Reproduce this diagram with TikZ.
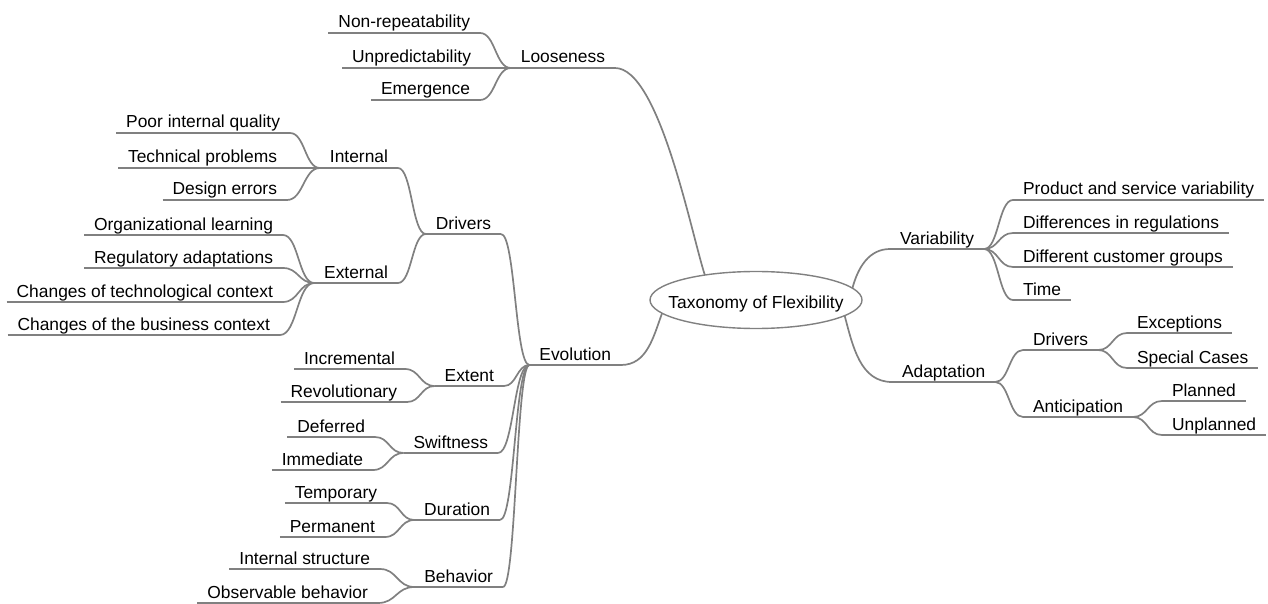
\documentclass[tikz,border=0pt]{standalone}
\usepackage{fontspec}
\setmainfont{Liberation Sans}
\usetikzlibrary{calc,shapes.geometric}
\definecolor{linegray}{RGB}{128,128,128}

\begin{document}
\begin{tikzpicture}[x=1pt, y=-1pt,
  every node/.style={font=\fontsize{17.4pt}{20pt}\selectfont, outer sep=0pt},
  topic/.style={inner xsep=10pt, inner ysep=1pt, text height=12.5pt, text depth=4pt},
  lefttopic/.style={topic, anchor=south east},
  righttopic/.style={topic, anchor=south west},
  central/.style={ellipse, draw=linegray, line width=1.4pt, minimum width=212pt,
    minimum height=57pt, inner xsep=-25pt, inner ysep=0pt, text height=17pt, text depth=1pt},
  uline/.style={draw=linegray, line width=1.7pt},
  trunk/.style={uline},
  branch/.style={uline, to path={let \p1=(\tikztostart), \p2=(\tikztotarget) in
    .. controls ({(\x1+\x2)/2},\y1) and ({(\x1+\x2)/2},\y2) .. (\tikztotarget)}}]
				\useasboundingbox (0,0) rectangle (1268,604);

				% Manual node positions
				\node[central] (root) at (756,300) {Taxonomy of Flexibility};

				\node[lefttopic] (loose) at (615,68) {Looseness};
				\node[lefttopic] (nonrep) at (480,33) {Non-repeatability};
				\node[lefttopic] (unpred) at (481,68) {Unpredictability};
				\node[lefttopic] (emerg) at (480,100) {Emergence};

				\node[lefttopic] (evo) at (621,365) {Evolution};
				\node[lefttopic] (drv) at (501,234) {Drivers};
				\node[lefttopic] (intl) at (398,168) {Internal};
				\node[lefttopic] (extl) at (398,283) {External};
				\node[lefttopic] (poor) at (290,133) {Poor internal quality};
				\node[lefttopic] (tech) at (287,168) {Technical problems};
				\node[lefttopic] (design) at (287,200) {Design errors};
				\node[lefttopic] (orgl) at (283,235) {Organizational learning};
				\node[lefttopic] (regul) at (283,268) {Regulatory adaptations};
				\node[lefttopic] (techctx) at (283,302) {Changes of technological context};
				\node[lefttopic] (busctx) at (280,335) {Changes of the business context};
				\node[lefttopic] (extent) at (504,386) {Extent};
				\node[lefttopic] (incr) at (405,369) {Incremental};
				\node[lefttopic] (revo) at (407,402) {Revolutionary};
				\node[lefttopic] (swift) at (498,453) {Swiftness};
				\node[lefttopic] (defer) at (375,437) {Deferred};
				\node[lefttopic] (immed) at (373,470) {Immediate};
				\node[lefttopic] (durat) at (500,520) {Duration};
				\node[lefttopic] (temp) at (387,503) {Temporary};
				\node[lefttopic] (perm) at (385,537) {Permanent};
				\node[lefttopic] (behav) at (503,587) {Behavior};
				\node[lefttopic] (istruct) at (380,569) {Internal structure};
				\node[lefttopic] (obsbeh) at (378,603) {Observable behavior};

				\node[righttopic] (var) at (890,249) {Variability};
				\node[righttopic] (prod) at (1013,200) {Product and service variability};
				\node[righttopic] (diffreg) at (1013,233) {Differences in regulations};
				\node[righttopic] (diffcust) at (1013,267) {Different customer groups};
				\node[righttopic] (time) at (1013,300) {Time};
				\node[righttopic] (adapt) at (892,382) {Adaptation};
				\node[righttopic] (adrv) at (1023,350) {Drivers};
				\node[righttopic] (antic) at (1023,417) {Anticipation};
				\node[righttopic] (exc) at (1127,333) {Exceptions};
				\node[righttopic] (spec) at (1127,368) {Special Cases};
				\node[righttopic] (plan) at (1162,401) {Planned};
				\node[righttopic] (unplan) at (1162,435) {Unplanned};

				% Underlines
				\foreach \n in {loose,nonrep,unpred,emerg,evo,drv,intl,extl,poor,tech,design,
				  orgl,regul,techctx,busctx,extent,incr,revo,swift,defer,immed,durat,temp,perm,
				  behav,istruct,obsbeh,var,prod,diffreg,diffcust,time,adapt,adrv,antic,exc,spec,
				  plan,unplan}
				  \draw[uline] (\n.south west) -- (\n.south east);

				% Connections
				\draw[trunk] (loose.south east) to[out=0, in=108, looseness=0.5] (root.154);
				\draw[trunk] (root.188) to[out=-110, in=0] (evo.south east);
				\draw[trunk] (root.7) to[out=75, in=180] (var.south west);
				\draw[trunk] (root.350) to[out=-75, in=180] (adapt.south west);

				\draw[branch] (nonrep.south east) to (loose.south west);
				\draw[branch] (unpred.south east) to (loose.south west);
				\draw[branch] (emerg.south east) to (loose.south west);

				\draw[branch] (drv.south east) to (evo.south west);
				\draw[branch] (extent.south east) to (evo.south west);
				\draw[branch] (swift.south east) to (evo.south west);
				\draw[branch] (durat.south east) to (evo.south west);
				\draw[branch] (behav.south east) to (evo.south west);
				\draw[branch] (intl.south east) to (drv.south west);
				\draw[branch] (extl.south east) to (drv.south west);
				\draw[branch] (poor.south east) to (intl.south west);
				\draw[branch] (tech.south east) to (intl.south west);
				\draw[branch] (design.south east) to (intl.south west);
				\draw[branch] (orgl.south east) to (extl.south west);
				\draw[branch] (regul.south east) to (extl.south west);
				\draw[branch] (techctx.south east) to (extl.south west);
				\draw[branch] (busctx.south east) to (extl.south west);
				\draw[branch] (incr.south east) to (extent.south west);
				\draw[branch] (revo.south east) to (extent.south west);
				\draw[branch] (defer.south east) to (swift.south west);
				\draw[branch] (immed.south east) to (swift.south west);
				\draw[branch] (temp.south east) to (durat.south west);
				\draw[branch] (perm.south east) to (durat.south west);
				\draw[branch] (istruct.south east) to (behav.south west);
				\draw[branch] (obsbeh.south east) to (behav.south west);

				\draw[branch] (var.south east) to (prod.south west);
				\draw[branch] (var.south east) to (diffreg.south west);
				\draw[branch] (var.south east) to (diffcust.south west);
				\draw[branch] (var.south east) to (time.south west);
				\draw[branch] (adapt.south east) to (adrv.south west);
				\draw[branch] (adapt.south east) to (antic.south west);
				\draw[branch] (adrv.south east) to (exc.south west);
				\draw[branch] (adrv.south east) to (spec.south west);
				\draw[branch] (antic.south east) to (plan.south west);
				\draw[branch] (antic.south east) to (unplan.south west);

			\end{tikzpicture}
\end{document}
